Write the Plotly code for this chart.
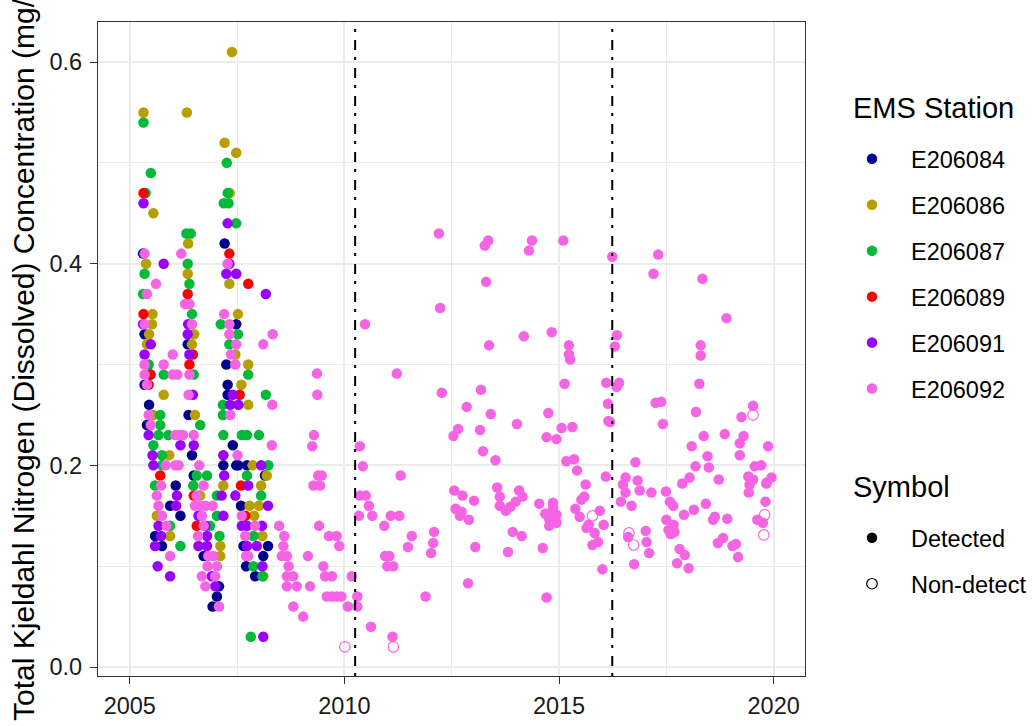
import plotly.graph_objects as go

# ---------------- data ----------------
stations = ["E206084", "E206086", "E206087", "E206089", "E206091", "E206092"]
station_colors = ["#00008B", "#B79F00", "#00BA38", "#FF0000", "#9900FF", "#F564E3"]

e206084_year = [2007.21, 2005.31, 2005.345, 2007.48, 2006.35, 2007.25, 2005.48, 2005.345, 2007.28, 2007.28,
                2005.45, 2006.37, 2005.40, 2007.40, 2006.45, 2007.18, 2007.48, 2007.53, 2007.73, 2006.49,
                2008.15, 2006.07, 2005.94, 2007.59, 2006.18, 2005.59, 2005.75, 2007.65, 2008.22, 2006.72,
                2008.11, 2007.73, 2007.71, 2007.92, 2007.08, 2007.03, 2006.93]
e206084_val = [0.42, 0.41, 0.33, 0.34, 0.32, 0.30, 0.29, 0.28, 0.28, 0.27,
               0.26, 0.25, 0.24, 0.22, 0.21, 0.20, 0.20, 0.20, 0.20, 0.19,
               0.19, 0.18, 0.16, 0.16, 0.15, 0.13, 0.12, 0.12, 0.12, 0.11,
               0.11, 0.11, 0.10, 0.09, 0.08, 0.07, 0.06]

e206086_year = [2007.38, 2005.32, 2006.33, 2007.21, 2007.48, 2005.55, 2006.36, 2005.38, 2006.35, 2007.32,
                2005.53, 2007.52, 2005.52, 2005.45, 2006.50, 2005.40, 2006.45, 2007.33, 2007.46, 2007.76,
                2007.60, 2005.79, 2007.76, 2005.55, 2006.52, 2005.92, 2007.86, 2008.19, 2007.18, 2008.06,
                2006.64, 2007.79, 2008.01, 2005.63, 2007.90, 2005.94, 2008.09, 2007.11, 2007.11, 2008.11]
e206086_val = [0.61, 0.55, 0.55, 0.52, 0.51, 0.45, 0.42, 0.40, 0.39, 0.38,
               0.35, 0.35, 0.34, 0.33, 0.33, 0.32, 0.32, 0.47, 0.31, 0.30,
               0.28, 0.27, 0.26, 0.25, 0.25, 0.21, 0.20, 0.19, 0.18, 0.18,
               0.17, 0.16, 0.16, 0.15, 0.15, 0.13, 0.13, 0.12, 0.11, 0.09]

e206087_year = [2005.32, 2007.26, 2005.49, 2005.37, 2007.28, 2007.19, 2007.30, 2007.48, 2006.32, 2006.42,
                2006.35, 2005.345, 2006.39, 2005.31, 2006.45, 2007.12, 2007.52, 2007.32, 2005.44, 2005.79,
                2006.49, 2007.76, 2008.17, 2007.17, 2005.71, 2007.17, 2005.71, 2006.64, 2005.67, 2005.90,
                2007.18, 2007.61, 2007.73, 2008.01, 2005.55, 2005.75, 2005.75, 2008.23, 2006.56, 2006.80,
                2007.73, 2005.59, 2006.48, 2007.03, 2008.06, 2007.03, 2005.94, 2006.87, 2007.09, 2007.88,
                2006.18, 2007.88, 2008.09, 2007.82]
e206087_val = [0.54, 0.50, 0.49, 0.47, 0.47, 0.46, 0.46, 0.44, 0.43, 0.43,
               0.40, 0.39, 0.38, 0.37, 0.35, 0.34, 0.33, 0.32, 0.30, 0.29,
               0.29, 0.29, 0.27, 0.26, 0.25, 0.25, 0.24, 0.24, 0.23, 0.23,
               0.23, 0.23, 0.23, 0.23, 0.22, 0.21, 0.20, 0.20, 0.19, 0.19,
               0.19, 0.18, 0.18, 0.17, 0.17, 0.15, 0.14, 0.14, 0.13, 0.13,
               0.12, 0.10, 0.09, 0.03]

e206089_year = [2005.32, 2007.32, 2007.76, 2006.35, 2005.32, 2006.47, 2006.39, 2005.48, 2005.44, 2007.56,
                2005.71, 2007.59, 2006.49, 2007.69, 2006.56]
e206089_val = [0.47, 0.41, 0.38, 0.37, 0.35, 0.31, 0.30, 0.29, 0.28, 0.27,
               0.19, 0.18, 0.17, 0.15, 0.14]

e206091_year = [2005.32, 2007.28, 2005.79, 2007.32, 2007.25, 2007.48, 2008.17, 2006.36, 2005.31, 2006.35,
                2005.49, 2005.345, 2006.39, 2006.47, 2007.40, 2007.34, 2007.53, 2005.44, 2006.18, 2006.49,
                2005.53, 2007.18, 2005.55, 2008.06, 2007.20, 2007.76, 2006.10, 2007.14, 2007.46, 2006.08,
                2008.22, 2006.60, 2007.18, 2005.67, 2006.76, 2007.61, 2007.73, 2008.08, 2005.73, 2006.80,
                2005.59, 2006.60, 2006.80, 2007.73, 2007.96, 2005.65, 2008.09, 2005.94, 2006.91, 2006.99,
                2008.11]
e206091_val = [0.46, 0.44, 0.40, 0.40, 0.39, 0.39, 0.37, 0.34, 0.34, 0.33,
               0.32, 0.31, 0.31, 0.27, 0.27, 0.26, 0.26, 0.23, 0.22, 0.22,
               0.21, 0.21, 0.20, 0.20, 0.19, 0.18, 0.17, 0.17, 0.17, 0.16,
               0.16, 0.15, 0.15, 0.14, 0.14, 0.14, 0.14, 0.14, 0.13, 0.13,
               0.12, 0.12, 0.12, 0.12, 0.12, 0.10, 0.10, 0.09, 0.09, 0.08,
               0.03]

e206092_year = [
    # 2005-2009
    2005.345, 2006.20, 2007.28, 2005.61, 2005.40, 2006.29, 2006.39, 2007.20, 2005.345, 2006.45,
    2007.32, 2008.33, 2007.32, 2008.11, 2007.48, 2006.00, 2007.36, 2005.345, 2005.79, 2007.46,
    2005.345, 2006.00, 2006.11, 2006.39, 2005.40, 2006.37, 2008.32, 2005.44, 2007.34, 2005.49,
    2006.06, 2006.16, 2006.24, 2006.49, 2008.31, 2007.51, 2005.84, 2006.06, 2006.14, 2006.62,
    2005.73, 2006.72, 2005.63, 2006.56, 2005.67, 2006.52, 2006.64, 2006.76, 2006.93, 2005.75,
    2006.68, 2007.61, 2005.86, 2006.72, 2007.92, 2008.48, 2006.59, 2007.69, 2008.60, 2008.58,
    2005.94, 2006.83, 2006.95, 2007.71, 2007.76, 2008.54, 2008.66, 2006.81, 2007.03, 2008.70,
    2006.68, 2006.99, 2008.66, 2008.81, 2006.76, 2008.66, 2008.89, 2007.08, 2008.81,
    # 2009-2014
    2012.20, 2013.27, 2013.35, 2014.37, 2014.30, 2015.10, 2016.24, 2017.31, 2017.20, 2018.34,
    2018.90, 2013.30, 2012.23, 2010.48, 2014.18, 2014.83, 2013.37, 2015.23, 2015.23, 2015.26,
    2016.35, 2016.30, 2018.30, 2018.30, 2009.36, 2011.22, 2009.37, 2012.27, 2013.18, 2015.13,
    2016.10, 2016.40, 2016.34, 2018.27, 2012.85, 2013.41, 2014.75, 2016.14, 2016.15, 2016.19,
    2017.25, 2017.38, 2017.42, 2018.19, 2019.52, 2019.25, 2012.54, 2012.65, 2013.16, 2014.02,
    2009.29, 2009.25, 2010.36, 2013.23, 2014.71, 2014.94, 2015.06, 2015.31, 2018.09, 2018.37,
    2018.86, 2019.21, 2019.30, 2019.21, 2019.87, 2013.52, 2010.43, 2015.17, 2015.35, 2015.42,
    2016.09, 2015.62, 2016.78, 2018.18, 2018.46, 2018.49, 2018.72, 2018.04, 2017.87, 2016.49,
    2016.55, 2016.83, 2016.55, 2016.88, 2017.15, 2017.49, 2016.44, 2016.69, 2017.58, 2017.66,
    2011.31, 2009.39, 2009.47, 2009.28, 2009.43, 2012.56, 2012.75, 2013.02, 2013.56, 2013.62,
    2014.07, 2014.15, 2010.36, 2010.50, 2010.57, 2013.62, 2013.76, 2013.87, 2013.99, 2012.59,
    2012.73, 2012.69, 2012.90, 2010.34, 2010.65, 2011.08, 2011.28, 2010.93, 2009.41, 2009.64,
    2009.82, 2009.88, 2011.57, 2012.09, 2012.07, 2012.02, 2011.48, 2013.05, 2013.81, 2013.92,
    2014.13, 2012.88, 2009.15, 2009.51, 2010.95, 2011.05, 2011.00, 2011.14, 2009.55, 2009.71,
    2010.17, 2009.20, 2009.59, 2009.71, 2009.82, 2009.93, 2010.30, 2011.89, 2010.08, 2010.30,
    2009.04, 2010.62, 2011.12,
    # 2014-2020
    2014.54, 2014.86, 2014.68, 2014.77, 2014.80, 2014.94, 2014.86, 2014.77, 2014.94, 2015.38,
    2015.52, 2015.59, 2015.48, 2015.69, 2015.64, 2015.95, 2015.83, 2015.91, 2015.78, 2016.04,
    2016.01, 2014.62, 2014.71, 2016.61, 2017.02, 2017.04, 2017.10, 2016.75, 2017.50, 2017.55,
    2017.60, 2017.64, 2017.69, 2017.67, 2017.91, 2017.81, 2017.93, 2017.75, 2018.02, 2018.14,
    2018.42, 2018.59, 2018.63, 2018.92, 2018.70, 2018.82, 2019.04, 2019.12, 2019.17, 2019.41,
    2019.52, 2019.44, 2019.42, 2019.56, 2019.71, 2019.83, 2019.81, 2019.62, 2019.75, 2019.95,
    2019.84]
e206092_val = [
    0.41, 0.41, 0.40, 0.38, 0.37, 0.36, 0.36, 0.35, 0.34, 0.34,
    0.34, 0.33, 0.33, 0.32, 0.32, 0.31, 0.31, 0.30, 0.30, 0.30,
    0.29, 0.29, 0.29, 0.29, 0.28, 0.27, 0.26, 0.25, 0.25, 0.24,
    0.23, 0.23, 0.23, 0.23, 0.22, 0.21, 0.20, 0.20, 0.20, 0.20,
    0.18, 0.18, 0.17, 0.17, 0.16, 0.16, 0.16, 0.16, 0.16, 0.15,
    0.15, 0.15, 0.14, 0.14, 0.14, 0.14, 0.13, 0.13, 0.13, 0.12,
    0.11, 0.11, 0.11, 0.11, 0.11, 0.11, 0.11, 0.10, 0.10, 0.10,
    0.09, 0.09, 0.09, 0.09, 0.08, 0.08, 0.08, 0.06, 0.06,
    0.430, 0.418, 0.423, 0.423, 0.413, 0.423, 0.407, 0.409, 0.390, 0.385,
    0.346, 0.382, 0.356, 0.340, 0.328, 0.332, 0.319, 0.319, 0.310, 0.305,
    0.329, 0.318, 0.319, 0.309, 0.291, 0.291, 0.270, 0.272, 0.275, 0.281,
    0.282, 0.282, 0.278, 0.281, 0.258, 0.251, 0.252, 0.261, 0.244, 0.243,
    0.262, 0.263, 0.241, 0.253, 0.259, 0.248, 0.229, 0.236, 0.235, 0.241,
    0.230, 0.219, 0.219, 0.214, 0.228, 0.226, 0.237, 0.238, 0.219, 0.229,
    0.231, 0.222, 0.229, 0.210, 0.219, 0.205, 0.199, 0.204, 0.206, 0.195,
    0.189, 0.181, 0.203, 0.199, 0.209, 0.198, 0.186, 0.188, 0.182, 0.181,
    0.188, 0.185, 0.173, 0.175, 0.173, 0.174, 0.164, 0.160, 0.164, 0.160,
    0.190, 0.190, 0.190, 0.180, 0.180, 0.175, 0.170, 0.165, 0.178, 0.169,
    0.175, 0.169, 0.170, 0.170, 0.160, 0.160, 0.155, 0.159, 0.164, 0.157,
    0.154, 0.150, 0.146, 0.150, 0.150, 0.150, 0.150, 0.140, 0.140, 0.130,
    0.130, 0.120, 0.130, 0.134, 0.123, 0.113, 0.119, 0.119, 0.114, 0.134,
    0.130, 0.083, 0.110, 0.100, 0.110, 0.110, 0.100, 0.100, 0.090, 0.090,
    0.090, 0.080, 0.070, 0.070, 0.070, 0.070, 0.070, 0.070, 0.060, 0.060,
    0.050, 0.040, 0.030,
    0.162, 0.163, 0.152, 0.147, 0.152, 0.151, 0.158, 0.140, 0.143, 0.157,
    0.166, 0.169, 0.149, 0.141, 0.138, 0.155, 0.133, 0.124, 0.121, 0.141,
    0.097, 0.118, 0.069, 0.129, 0.135, 0.124, 0.113, 0.102, 0.146, 0.136,
    0.132, 0.133, 0.134, 0.141, 0.151, 0.117, 0.111, 0.103, 0.098, 0.156,
    0.162, 0.146, 0.149, 0.147, 0.123, 0.128, 0.120, 0.122, 0.109, 0.189,
    0.186, 0.181, 0.173, 0.199, 0.200, 0.182, 0.164, 0.146, 0.143, 0.188,
    0.183]

# non-detects (open symbols), station E206092
e206092_nd_year = [2010.01, 2011.14, 2015.78, 2016.63, 2016.74, 2019.52, 2019.79, 2019.77]
e206092_nd_val = [0.020, 0.020, 0.150, 0.133, 0.121, 0.250, 0.151, 0.131]

event_years = [2010.25, 2016.24]

x_tick_vals = [2005, 2010, 2015, 2020]
x_tick_text = ["2005", "2010", "2015", "2020"]
y_tick_vals = [0.0, 0.2, 0.4, 0.6]
y_tick_text = ["0.0", "0.2", "0.4", "0.6"]

y_title = "Total Kjeldahl Nitrogen (Dissolved) Concentration (mg/L)"
station_legend_title = "EMS Station"
symbol_legend_title = "Symbol"
symbol_labels = ["Detected", "Non-detect"]

# ---------------- figure ----------------
FONT = "Liberation Sans, Arial, sans-serif"
MS = 10.5
detected = {
    "E206084": (e206084_year, e206084_val),
    "E206086": (e206086_year, e206086_val),
    "E206087": (e206087_year, e206087_val),
    "E206089": (e206089_year, e206089_val),
    "E206091": (e206091_year, e206091_val),
    "E206092": (e206092_year, e206092_val),
}

fig = go.Figure()
for st, col in zip(stations, station_colors):
    xs, ys = detected[st]
    fig.add_trace(go.Scatter(
        x=xs, y=ys, mode="markers", name=st,
        marker=dict(color=col, size=MS, symbol="circle", line=dict(width=0)),
        legend="legend", legendgroup=st, showlegend=True, hoverinfo="skip"))

fig.add_trace(go.Scatter(
    x=e206092_nd_year, y=e206092_nd_val, mode="markers", name="E206092 non-detect",
    marker=dict(color=station_colors[5], size=MS, symbol="circle-open", line=dict(width=1.2)),
    legendgroup="E206092", showlegend=False, hoverinfo="skip"))

# symbol legend
fig.add_trace(go.Scatter(
    x=[None], y=[None], mode="markers", name=symbol_labels[0],
    marker=dict(color="black", size=MS, symbol="circle"),
    legend="legend2", legendgroup="det", showlegend=True))
fig.add_trace(go.Scatter(
    x=[None], y=[None], mode="markers", name=symbol_labels[1],
    marker=dict(color="black", size=MS, symbol="circle-open", line=dict(width=1.2)),
    legend="legend2", legendgroup="nd", showlegend=True))

for ev in event_years:
    fig.add_shape(type="line", xref="x", yref="paper", x0=ev, x1=ev, y0=0, y1=1,
                  line=dict(color="black", width=2, dash="3px,7px,10px,8px"), layer="above")

axis_common = dict(
    automargin=False,
    showgrid=True, gridcolor="#EBEBEB", gridwidth=1.6,
    showline=True, linecolor="#333333", linewidth=1.3, mirror=True,
    ticks="outside", ticklen=7, tickwidth=1.3, tickcolor="#333333",
    zeroline=False, tickfont=dict(family=FONT, size=23.5, color="#1a1a1a"),
)

# plot area: x 98..805, y 22..676 (px)
fig.update_layout(
    width=1034, height=726,
    margin=dict(l=98, r=229, t=22, b=50, pad=0, autoexpand=False),
    plot_bgcolor="white", paper_bgcolor="white",
    font=dict(family=FONT, color="black"),
    xaxis=dict(range=[2004.26, 2020.73], tickmode="array", tickvals=x_tick_vals, ticktext=x_tick_text,
               ticklabelstandoff=2,
               minor=dict(tickvals=[2007.5, 2012.5, 2017.5], showgrid=True, gridcolor="#EBEBEB", gridwidth=0.9, ticks=""),
               **axis_common),
    yaxis=dict(range=[-0.0089, 0.6397], tickmode="array", tickvals=y_tick_vals, ticktext=y_tick_text,
               ticklabelstandoff=3,
               minor=dict(tickvals=[0.1, 0.3, 0.5], showgrid=True, gridcolor="#EBEBEB", gridwidth=0.9, ticks=""),
               **axis_common),
    legend=dict(
        font=dict(family=FONT, size=23.5, color="black"),
        xref="container", yref="container", x=0.8056, y=1 - 137 / 726, xanchor="left", yanchor="top",
        itemwidth=68, tracegroupgap=12.4, bgcolor="rgba(0,0,0,0)", itemclick=False),
    legend2=dict(
        font=dict(family=FONT, size=23.5, color="black"),
        xref="container", yref="container", x=0.8056, y=1 - 516 / 726, xanchor="left", yanchor="top",
        itemwidth=68, tracegroupgap=12.4, bgcolor="rgba(0,0,0,0)", itemclick=False),
    annotations=[
        dict(text=y_title, textangle=-90, xref="paper", yref="paper",
             x=(23 - 98) / 707, y=(676 - 347) / 654, xanchor="center", yanchor="middle",
             showarrow=False, font=dict(family=FONT, size=30, color="black")),
        dict(text=station_legend_title, xref="paper", yref="paper",
             x=(851 - 98) / 707, y=(676 - 108) / 654, xanchor="left", yanchor="middle",
             showarrow=False, font=dict(family=FONT, size=29, color="black")),
        dict(text=symbol_legend_title, xref="paper", yref="paper",
             x=(851 - 98) / 707, y=(676 - 487) / 654, xanchor="left", yanchor="middle",
             showarrow=False, font=dict(family=FONT, size=29, color="black")),
    ],
)

fig.write_html("out.html")
